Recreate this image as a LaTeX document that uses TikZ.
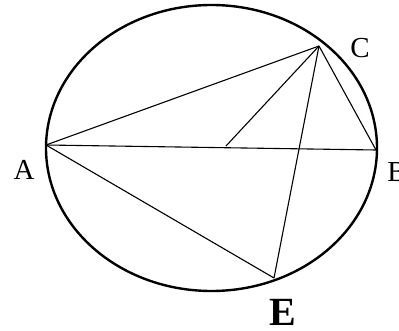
\documentclass[tikz,border=0pt]{standalone}
\usepackage{fontspec}
\setmainfont{Liberation Serif}
\usetikzlibrary{positioning}
\tikzset{
    rim/.style={draw=black, line width=2.4pt},
    chord/.style={draw=black, line width=1.1pt},
    ptlabel/.style={font=\fontsize{29}{29}\selectfont, inner sep=0pt},
    bigptlabel/.style={font=\fontsize{40}{40}\selectfont\bfseries, inner sep=0pt}
}
\begin{document}
\begin{tikzpicture}[x=1pt,y=-1pt]
    \useasboundingbox (0,0) rectangle (399,331);
    % Circle
    \draw[rim] (211.5,148) ellipse [x radius=165.5, y radius=143];

    % Points
    \coordinate (A) at (46,145);
    \coordinate (B) at (376,150);
    \coordinate (C) at (319,46);
    \coordinate (E) at (274,278);
    \coordinate (M) at (226,146);

    % Chords
    \draw[chord] (A) -- (B);
    \draw[chord] (A) -- (C);
    \draw[chord] (C) -- (B);
    \draw[chord] (A) -- (E);
    \draw[chord] (C) -- (E);
    \draw[chord] (C) -- (M);

    % Labels
    \node[ptlabel] (labA) at (24,170) {A};
    \node[ptlabel] (labB) at (397,172) {B};
    \node[ptlabel] (labC) at (360,48) {C};
    \node[bigptlabel] (labE) at (283,312) {E};
\end{tikzpicture}
\end{document}
